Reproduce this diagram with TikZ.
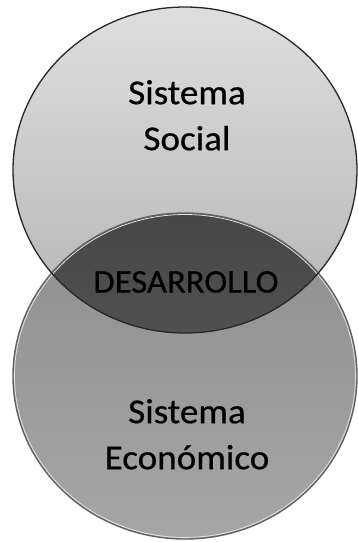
\documentclass[tikz,border=0pt]{standalone}
\usepackage{fontspec}
\setmainfont{Carlito}
\newfontfamily\lblfont{Carlito}[FakeBold=0.6]
\usetikzlibrary{shapes.geometric,positioning}
\definecolor{socialtop}{HTML}{DEDEDE}
\definecolor{socialbot}{HTML}{B4B4B4}
\definecolor{ecotop}{HTML}{8E8E8E}
\definecolor{ecobot}{HTML}{A6A6A6}
\definecolor{lenstop}{HTML}{474747}
\definecolor{lensbot}{HTML}{606060}
\newcommand{\bigtxt}[1]{\scalebox{1.06}[1]{\lblfont\fontsize{35}{46}\selectfont
  \begin{tabular}{@{}c@{}}#1\end{tabular}}}
\newcommand{\midtxt}[1]{\scalebox{1.05}[1]{\lblfont\fontsize{33}{40}\selectfont #1}}

\begin{document}
\begin{tikzpicture}[x=1pt,y=-1pt,
  circ/.style={ellipse, minimum width=344pt, minimum height=326pt, inner sep=0pt},
  ring/.style={x radius=172pt, y radius=163pt}]
\useasboundingbox (0,0) rectangle (357,542);

\node[circ, top color=socialtop, bottom color=socialbot] (social) at (185,170) {};
\node[circ, top color=ecotop, bottom color=ecobot] (eco) at (185,376) {};

% interseccion
\begin{scope}
\clip (social.center) ellipse [ring];
\fill[top color=lenstop, bottom color=lensbot] (eco.center) ellipse [ring];
\end{scope}

\draw[line width=1.4pt, draw=black!62] (eco.center) ellipse [ring];
\draw[line width=0.8pt, draw=white!78!gray] (eco.center) ellipse [x radius=170.5pt, y radius=161.5pt];

\draw[line width=1.3pt, draw=black!85] (social.center) ellipse [ring];

\node (socialtxt) at (187,118) {\bigtxt{Sistema\\Social}};
\node (lenstxt) at (186,282) {\midtxt{DESARROLLO}};
\node (ecotxt) at (187,437) {\bigtxt{Sistema\\Económico}};
\end{tikzpicture}
\end{document}
